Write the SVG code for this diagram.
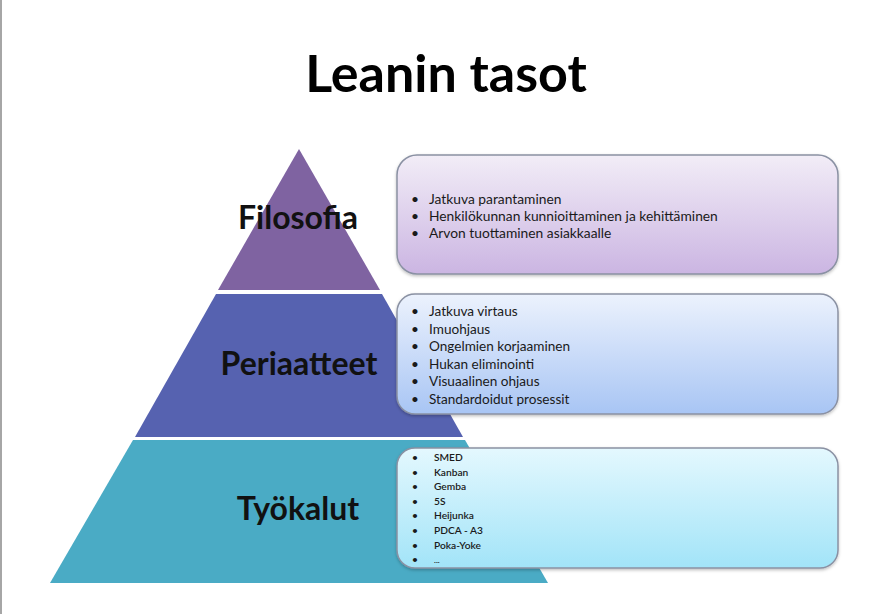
<svg xmlns="http://www.w3.org/2000/svg" width="886" height="614" viewBox="0 0 886 614">
<style>
.title{font-family:Lato,"Liberation Sans",sans-serif;font-weight:bold;font-size:52px;fill:#000;text-anchor:middle}
.lvl{font-family:Lato,"Liberation Sans",sans-serif;font-weight:bold;font-size:32px;fill:#111;text-anchor:middle}
.t1{font-family:Lato,"Liberation Sans",sans-serif;font-size:13.8px;fill:#1a1a1a}
.t2{font-family:Lato,"Liberation Sans",sans-serif;font-size:13.6px;fill:#1a1a1a}
.t3{font-family:Lato,"Liberation Sans",sans-serif;font-size:10.2px;font-weight:600;fill:#1a1a1a}
.box{stroke:#8a91a3;stroke-width:1.5}
</style>
<defs>
<linearGradient id="g1" x1="0" y1="0" x2="0" y2="1"><stop offset="0" stop-color="#f2edf7"/><stop offset="1" stop-color="#cbb5e2"/></linearGradient>
<linearGradient id="g2" x1="0" y1="0" x2="0" y2="1"><stop offset="0" stop-color="#ecf2fd"/><stop offset="1" stop-color="#a8c5f4"/></linearGradient>
<linearGradient id="g3" x1="0" y1="0" x2="0" y2="1"><stop offset="0" stop-color="#e4f8fe"/><stop offset="1" stop-color="#a2e4f8"/></linearGradient>
<filter id="sh" x="-5%" y="-10%" width="110%" height="125%"><feDropShadow dx="0" dy="1.5" stdDeviation="1.5" flood-color="#000" flood-opacity="0.25"/></filter>
</defs>
<rect x="0" y="0" width="886" height="614" fill="#fff"/>
<rect x="0" y="0" width="2" height="614" fill="#a6a6a6"/>
<text class="title" x="446" y="92">Leanin tasot</text>

<g id="level-filosofia">
<polygon points="299,149 380,290 218,290" fill="#7f63a1"/>
<text class="lvl" x="298" y="229">Filosofia</text>
</g>
<g id="level-periaatteet">
<polygon points="216,294 382,294 463,437 135,437" fill="#5662b0"/>
<text class="lvl" x="299" y="375">Periaatteet</text>
</g>
<g id="level-tyokalut">
<polygon points="133,440 465,440 548,583 50,583" fill="#4aabc5"/>
<text class="lvl" x="298" y="520">Työkalut</text>
</g>

<g id="box-filosofia">
<rect class="box" x="397" y="155" width="441" height="119" rx="20" fill="url(#g1)" filter="url(#sh)"/>
<g class="t1">
<text x="411" y="203.5">•</text><text x="429" y="203.5">Jatkuva parantaminen</text>
<text x="411" y="220.5">•</text><text x="429" y="220.5">Henkilökunnan kunnioittaminen ja kehittäminen</text>
<text x="411" y="237.5">•</text><text x="429" y="237.5">Arvon tuottaminen asiakkaalle</text>
</g>
</g>
<g id="box-periaatteet">
<rect class="box" x="397" y="294" width="441" height="120" rx="18" fill="url(#g2)" filter="url(#sh)"/>
<g class="t2">
<text x="411" y="316">•</text><text x="429" y="316">Jatkuva virtaus</text>
<text x="411" y="333.6">•</text><text x="429" y="333.6">Imuohjaus</text>
<text x="411" y="351.2">•</text><text x="429" y="351.2">Ongelmien korjaaminen</text>
<text x="411" y="368.8">•</text><text x="429" y="368.8">Hukan eliminointi</text>
<text x="411" y="386.4">•</text><text x="429" y="386.4">Visuaalinen ohjaus</text>
<text x="411" y="404">•</text><text x="429" y="404">Standardoidut prosessit</text>
</g>
</g>
<g id="box-tyokalut">
<rect class="box" x="397" y="448" width="441" height="120" rx="18" fill="url(#g3)" filter="url(#sh)"/>
<g class="t3">
<text x="412" y="461">•</text><text x="434" y="461">SMED</text>
<text x="412" y="475.6">•</text><text x="434" y="475.6">Kanban</text>
<text x="412" y="490.2">•</text><text x="434" y="490.2">Gemba</text>
<text x="412" y="504.8">•</text><text x="434" y="504.8">5S</text>
<text x="412" y="519.4">•</text><text x="434" y="519.4">Heijunka</text>
<text x="412" y="534">•</text><text x="434" y="534">PDCA - A3</text>
<text x="412" y="548.6">•</text><text x="434" y="548.6">Poka-Yoke</text>
<text x="412" y="563.2">•</text><text x="434" y="563.2" style="font-size:8px">...</text>
</g>
</g>
<g id="connectors"/>
</svg>
